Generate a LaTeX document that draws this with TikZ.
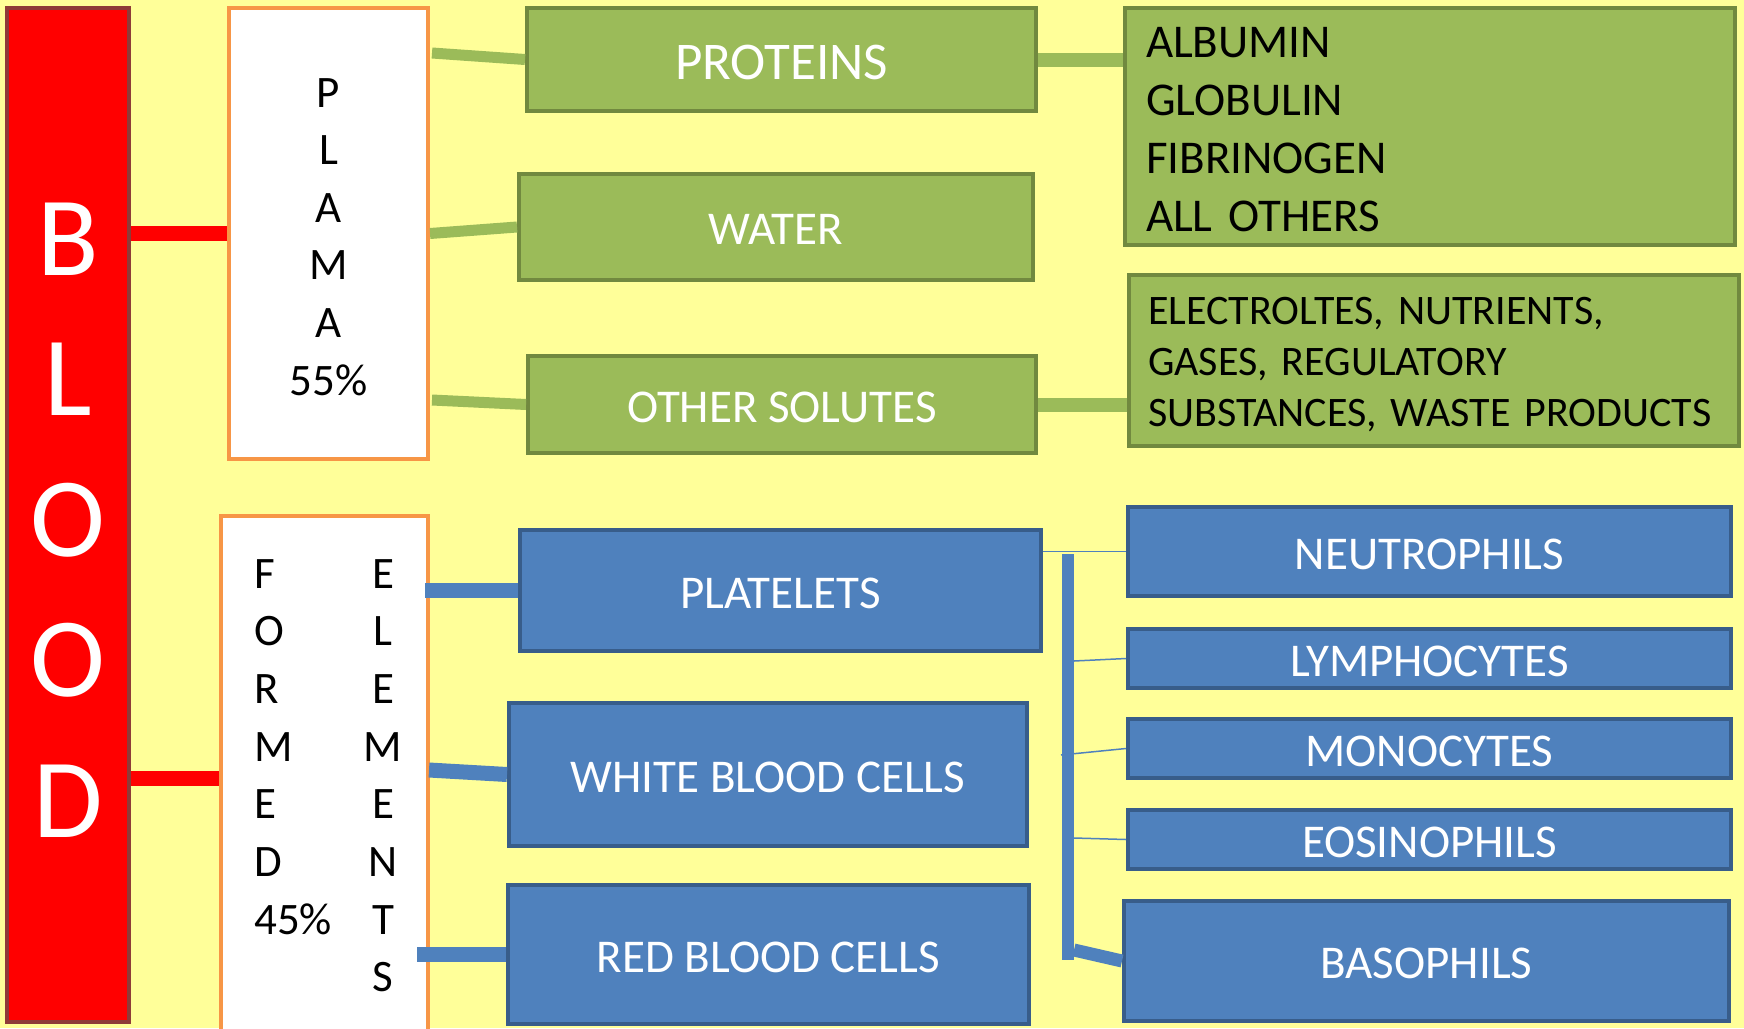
\documentclass[tikz,border=0pt]{standalone}
\usepackage{fontspec}
\setmainfont{Carlito}
\usepackage{tikz}
\usetikzlibrary{calc}
\definecolor{bgyellow}{HTML}{FFFF99}
\definecolor{bloodred}{HTML}{FF0000}
\definecolor{bloodedge}{HTML}{8E3B38}
\definecolor{partedge}{HTML}{F79646}
\definecolor{plasmagreen}{HTML}{9BBB59}
\definecolor{plasmaedge}{HTML}{71893F}
\definecolor{cellblue}{HTML}{4F81BD}
\definecolor{celledge}{HTML}{385D8A}

\begin{document}
\begin{tikzpicture}[x=1pt,y=-1pt,
  box/.style={draw,line width=4pt,inner sep=0pt,align=center},
  label/.style={font=\fontsize{47}{57}\selectfont,text height=35pt,text depth=0pt},
  bloodbox/.style={box,fill=bloodred,draw=bloodedge},
  partbox/.style={box,fill=white,draw=partedge},
  greenbox/.style={box,label,fill=plasmagreen,draw=plasmaedge,text=white},
  listbox/.style={box,fill=plasmagreen,draw=plasmaedge,align=left},
  bluebox/.style={box,label,fill=cellblue,draw=celledge,text=white},
  columntext/.style={inner sep=0pt,font=\fontsize{45}{57.7}\selectfont},
  redlink/.style={draw=bloodred,line width=15pt},
  greenlink/.style={draw=plasmagreen,line width=11pt},
  listlink/.style={draw=plasmagreen,line width=14pt},
  bluelink/.style={draw=cellblue,line width=15pt},
  thinlink/.style={draw=cellblue,line width=1.5pt}]
\useasboundingbox (0,0) rectangle (1744,1028);
\clip (0,0) rectangle (1744,1028);
\fill[bgyellow] (0,0) rectangle (1744,1028);

\node[bloodbox,minimum width=122pt,minimum height=1014pt] (blood) at (68,515) {};
\node[inner sep=0pt,align=center,text=white,font=\fontsize{113}{140.5}\selectfont] (bloodletters) at (68,520) {B\\L\\O\\O\\D};
\node[partbox,minimum width=199pt,minimum height=451pt] (plama) at (328.5,233.5) {};
\node[columntext,anchor=north,align=center,font=\fontsize{45}{57.6}\selectfont] (plamaletters) at (328.5,78) {P\\L\\A\\M\\A\\55\%};
\node[partbox,minimum width=207pt,minimum height=524pt] (formed) at (324.5,778) {};
\node[columntext,anchor=north west,align=left] (formedl) at (254,559) {F\\O\\R\\M\\E\\D\\45\%};
\node[columntext,anchor=north,align=center] (formedr) at (383,559) {E\\L\\E\\M\\E\\N\\T\\S};

\node[greenbox,minimum width=509pt,minimum height=103pt,font=\fontsize{53}{64}\selectfont,text height=39pt] (proteins) at (781.5,59.5) {PROTEINS};
\node[greenbox,minimum width=514pt,minimum height=106pt] (water) at (776,227) {WATER};
\node[greenbox,minimum width=508pt,minimum height=97pt] (solutes) at (782,404.5) {OTHER SOLUTES};
\node[listbox,text width=568pt,inner xsep=21pt,minimum width=610pt,minimum height=237pt,font=\fontsize{47}{58}\selectfont] (proteinlist) at (1430,126.5) {\rule{0pt}{36pt}ALBUMIN\\GLOBULIN\\FIBRINOGEN\\ALL~OTHERS};
\node[listbox,text width=572pt,inner xsep=19pt,minimum width=610pt,minimum height=171pt,font=\fontsize{42}{51}\selectfont] (solutelist) at (1434,360.5) {\rule{0pt}{35pt}ELECTROLTES,~NUTRIENTS,\\GASES,~REGULATORY\\SUBSTANCES,~WASTE~PRODUCTS};

\node[bluebox,minimum width=521pt,minimum height=121pt] (platelets) at (780.5,590.5) {PLATELETS};
\node[bluebox,minimum width=518pt,minimum height=143pt] (wbc) at (768,774.5) {WHITE BLOOD CELLS};
\node[bluebox,minimum width=521pt,minimum height=139pt] (rbc) at (768.5,954.5) {RED BLOOD CELLS};
\node[bluebox,minimum width=603pt,minimum height=89pt] (neutrophils) at (1429.5,551.5) {NEUTROPHILS};
\node[bluebox,minimum width=603pt,minimum height=59pt] (lymphocytes) at (1429.5,658.5) {LYMPHOCYTES};
\node[bluebox,minimum width=603pt,minimum height=59pt] (monocytes) at (1429.5,748.5) {MONOCYTES};
\node[bluebox,minimum width=603pt,minimum height=59pt] (eosinophils) at (1429.5,839.5) {EOSINOPHILS};
\node[bluebox,minimum width=605pt,minimum height=120pt] (basophils) at (1426.5,961) {BASOPHILS};

\coordinate (trunktop) at (1068,554);
\coordinate (trunkbot) at (1068,960);
\coordinate (lymphjoin) at (1074,661);
\coordinate (monojoin) at (1061,755);
\coordinate (eosjoin) at (1074,838);
\coordinate (basojoin) at (1074,950);

\draw[redlink] (blood.east |- plama.west) -- (plama.west);
\draw[redlink] (blood.east |- formed.west) -- (formed.west);

\draw[greenlink] ($(plama.north east)+(2,47)$) -- (proteins.west);
\draw[greenlink] (plama.east) -- (water.west);
\draw[greenlink] ($(plama.south east)+(2,-61)$) -- (solutes.west);
\draw[listlink] (proteins.east) -- (proteinlist.west |- proteins.east);
\draw[listlink] (solutes.east) -- (solutelist.west |- solutes.east);

\draw[bluelink] ($(formed.east |- platelets.west)+(-5,0)$) -- (platelets.west);
\draw[bluelink] ($(formed.east)+(-1,-8)$) -- (wbc.west);
\draw[bluelink] ($(formed.east |- rbc.west)+(-13,0)$) -- (rbc.west);

\draw[thinlink] (platelets.east |- neutrophils.west) -- (neutrophils.west);
\draw[draw=cellblue,line width=12pt] (trunktop) -- (trunkbot);
\draw[thinlink] (lymphjoin) -- (lymphocytes.west);
\draw[thinlink] (monojoin) -- (monocytes.west);
\draw[thinlink] (eosjoin) -- (eosinophils.west);
\draw[draw=cellblue,line width=13pt] (basojoin) -- (basophils.west);
\end{tikzpicture}
\end{document}
